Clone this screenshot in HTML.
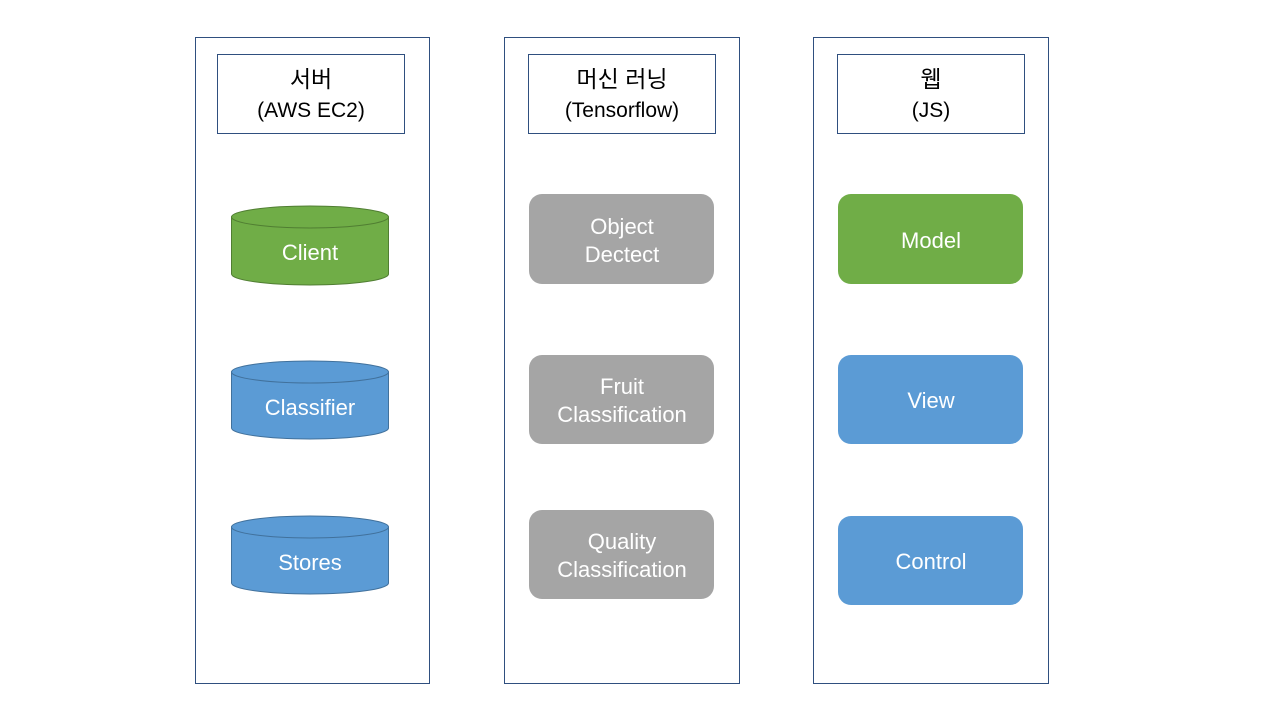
<!DOCTYPE html>
<html><head><meta charset="utf-8"><style>
html,body{margin:0;padding:0;background:#fff;width:1280px;height:720px;overflow:hidden}
text{font-family:"Liberation Sans","Noto Sans CJK KR",sans-serif}
</style></head><body>
<svg width="1280" height="720" xmlns="http://www.w3.org/2000/svg">
<g fill="#fff" stroke="#2F4F7F" stroke-width="1">
<rect x="195.5" y="37.5" width="234" height="646"/>
<rect x="504.5" y="37.5" width="235" height="646"/>
<rect x="813.5" y="37.5" width="235" height="646"/>
<rect x="217.5" y="54.5" width="187" height="79"/>
<rect x="528.5" y="54.5" width="187" height="79"/>
<rect x="837.5" y="54.5" width="187" height="79"/>
</g>
<g font-size="21" fill="#000" text-anchor="middle">
<text x="311" y="87" font-size="23">서버</text><text x="311" y="117">(AWS EC2)</text>
<text x="622" y="87" font-size="23">머신 러닝</text><text x="622" y="117">(Tensorflow)</text>
<text x="931" y="87" font-size="23">웹</text><text x="931" y="117">(JS)</text>
</g>
<g stroke-width="1">
<path d="M231.5,217 V274 A78.5,11 0 0 0 388.5,274 V217 Z" fill="#70AD47" stroke="#507E32"/>
<ellipse cx="310" cy="217" rx="78.5" ry="11" fill="#70AD47" stroke="#507E32"/>
<path d="M231.5,372 V428 A78.5,11 0 0 0 388.5,428 V372 Z" fill="#5B9BD5" stroke="#41719C"/>
<ellipse cx="310" cy="372" rx="78.5" ry="11" fill="#5B9BD5" stroke="#41719C"/>
<path d="M231.5,527 V583 A78.5,11 0 0 0 388.5,583 V527 Z" fill="#5B9BD5" stroke="#41719C"/>
<ellipse cx="310" cy="527" rx="78.5" ry="11" fill="#5B9BD5" stroke="#41719C"/>
</g>
<g>
<rect x="529" y="194" width="185" height="90" rx="13" fill="#A5A5A5"/>
<rect x="529" y="355" width="185" height="89" rx="13" fill="#A5A5A5"/>
<rect x="529" y="510" width="185" height="89" rx="13" fill="#A5A5A5"/>
<rect x="838" y="194" width="185" height="90" rx="13" fill="#70AD47"/>
<rect x="838" y="355" width="185" height="89" rx="13" fill="#5B9BD5"/>
<rect x="838" y="516" width="185" height="89" rx="13" fill="#5B9BD5"/>
</g>
<g font-size="22" fill="#fff" text-anchor="middle">
<text x="310" y="260">Client</text>
<text x="310" y="415">Classifier</text>
<text x="310" y="570">Stores</text>
<text x="622" y="234">Object</text><text x="622" y="262">Dectect</text>
<text x="622" y="394">Fruit</text><text x="622" y="422">Classification</text>
<text x="622" y="549">Quality</text><text x="622" y="577">Classification</text>
<text x="931" y="248">Model</text>
<text x="931" y="408">View</text>
<text x="931" y="569">Control</text>
</g>
</svg>
</body></html>
